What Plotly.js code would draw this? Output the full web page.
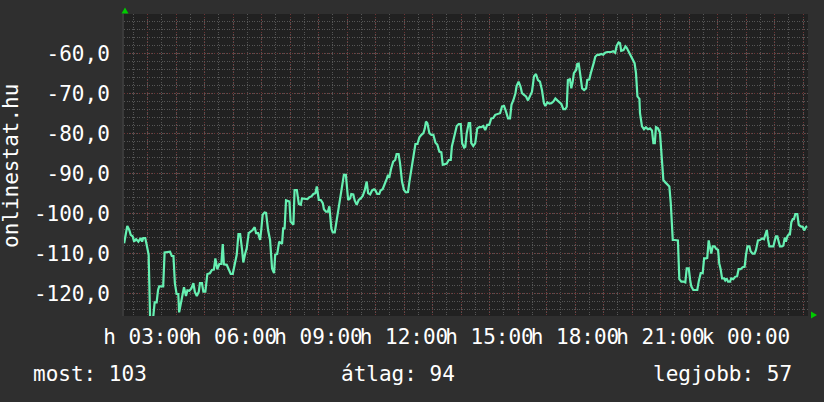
<!DOCTYPE html>
<html>
<head>
<meta charset="utf-8">
<script src="https://cdn.plot.ly/plotly-3.0.1.min.js"></script>
<style>
  html, body { margin: 0; padding: 0; background: #2f2f2f; }
  #chart { width: 824px; height: 402px; }
</style>
</head>
<body>
<div id="chart"></div>
<script>
// ---- data (hours since Monday 00:00, negated rank) ----
var hours = [
 2.18,2.29,2.36,2.41,2.48,2.53,2.60,2.68,2.76,2.81,2.85,2.92,2.97,3.04,3.09,3.20,3.25,3.32,3.37,3.41,
 3.55,3.60,3.79,3.85,3.91,3.96,4.02,4.08,4.11,4.18,4.24,4.28,4.35,4.40,4.47,4.54,4.61,4.66,4.73,4.80,
 4.84,4.91,4.96,5.03,5.10,5.19,5.26,5.33,5.38,5.45,5.52,5.59,5.64,5.68,5.78,5.85,5.92,5.99,6.07,6.13,
 6.19,6.25,6.32,6.36,6.43,6.48,6.55,6.62,6.69,6.76,6.81,6.88,6.95,6.99,7.04,7.11,7.16,7.23,7.30,7.37,
 7.44,7.48,7.55,7.62,7.72,7.76,7.81,7.86,7.98,8.02,8.12,8.16,8.24,8.31,8.38,8.42,8.53,8.61,8.68,8.75,
 8.82,8.89,8.94,9.01,9.08,9.15,9.19,9.26,9.33,9.38,9.45,9.50,9.57,9.64,9.71,9.75,9.82,9.89,9.96,10.04,
 10.11,10.15,10.22,10.27,10.34,10.41,10.48,10.55,10.62,10.69,10.74,10.81,10.88,10.95,10.99,11.06,11.13,11.18,11.25,11.32,
 11.39,11.44,11.48,11.55,11.62,11.69,11.74,11.81,11.86,11.93,12.00,12.07,12.14,12.19,12.26,12.33,12.40,12.47,12.54,12.61,
 12.68,12.73,12.77,12.82,12.89,12.96,13.03,13.10,13.17,13.24,13.31,13.36,13.43,13.50,13.57,13.64,13.68,13.73,13.80,13.85,
 13.92,13.99,14.04,14.11,14.15,14.20,14.27,14.32,14.36,14.43,14.50,14.57,14.64,14.71,14.78,14.85,14.92,14.99,15.06,15.13,
 15.20,15.27,15.37,15.44,15.51,15.58,15.65,15.72,15.77,15.84,15.91,15.95,16.02,16.09,16.14,16.21,16.28,16.35,16.42,16.49,
 16.56,16.63,16.70,16.77,16.84,16.91,16.96,17.03,17.10,17.17,17.24,17.31,17.38,17.45,17.52,17.59,17.66,17.71,17.75,17.82,
 17.87,17.92,17.96,18.04,18.08,18.13,18.18,18.25,18.32,18.39,18.43,18.50,18.57,18.62,18.67,18.71,18.78,18.85,18.92,18.99,
 19.06,19.13,19.20,19.27,19.34,19.41,19.46,19.53,19.58,19.62,19.70,19.77,19.81,19.88,19.95,20.02,20.09,20.14,20.19,20.26,
 20.28,20.35,20.42,20.49,20.56,20.63,20.70,20.75,20.80,20.84,20.91,20.98,21.03,21.10,21.17,21.24,21.31,21.36,21.40,21.43,
 21.50,21.61,21.66,21.73,21.80,21.87,21.92,21.99,22.04,22.08,22.15,22.22,22.29,22.34,22.41,22.48,22.53,22.60,22.64,22.69,
 22.74,22.78,22.83,22.90,22.95,23.02,23.06,23.11,23.16,23.23,23.27,23.32,23.37,23.44,23.48,23.55,23.62,23.69,23.74,23.81,
 23.88,23.95,24.00,24.05,24.12,24.16,24.23,24.30,24.35,24.42,24.49,24.56,24.63,24.68,24.73,24.77,24.82,24.89,24.96,25.01,
 25.05,25.10,25.15,25.19,25.26,25.31,25.36,25.40,25.45,25.50,25.54,25.59,25.64,25.68,25.73,25.80,25.85,25.92,25.99,26.04,
 26.11,26.15
];
var values = [
 -107.5,-103.2,-104.2,-105.4,-105.8,-107.1,-106.5,-107.1,-106.2,-107.1,-106.2,-106.2,-107.9,-110.4,-126,-126,-122.3,-122.3,-119.2,-118.3,
 -118.3,-109.8,-109.6,-110.7,-110.7,-117.5,-120.2,-120.2,-124.8,-122.1,-120.8,-118.5,-120.7,-119.3,-119.4,-118.8,-117.5,-119.6,-120.7,-119.6,
 -117.5,-117.5,-119.6,-119.6,-115.2,-115,-114.2,-114.1,-111.3,-114,-112.7,-112.7,-107.7,-112.8,-112.9,-114.2,-115.2,-115.2,-112.5,-110.4,
 -105.2,-105.2,-109.2,-112.3,-110,-108.8,-105,-104.6,-104.2,-103.5,-105,-105,-106.7,-104.2,-100.4,-99.8,-99.9,-104.2,-106.7,-113.8,
 -115,-110.4,-110.2,-107.1,-107.7,-103.8,-103.8,-96.8,-97.1,-102.1,-102.9,-94.2,-94.2,-97.7,-97.9,-96.3,-96.5,-96.5,-96,-95.8,
 -95.2,-95,-93.3,-96.7,-96.7,-97.5,-99,-99.6,-99.6,-98.3,-103.8,-104.8,-104.8,-101.7,-99.2,-96.3,-93.8,-90.4,-90.4,-96.7,
 -96.3,-95.2,-95.3,-96.8,-97.9,-96.7,-96.3,-95.7,-94.3,-92.1,-95,-95.3,-94.3,-94,-94.2,-95.2,-95.2,-94.3,-94,-92.9,
 -91.5,-90.4,-91.2,-88.8,-87.1,-86.7,-85.2,-85.2,-87.5,-92.1,-94.2,-94.8,-94.7,-92.1,-88.8,-86.3,-82.7,-82.7,-81,-80.4,
 -80,-78.8,-77.1,-77.5,-80,-80.4,-80.4,-82.3,-82.9,-84.6,-84.8,-87.9,-87.8,-87.6,-86.7,-86.7,-83.3,-81.7,-80,-78.2,
 -77.7,-77.7,-82.5,-83.6,-83.4,-80,-77.5,-77.5,-82.5,-83.2,-82.5,-78.8,-78.5,-78.5,-78.2,-79.2,-77.9,-77.9,-76.3,-76.2,
 -75.4,-75.2,-75,-73.3,-73.2,-74.6,-76.3,-76.3,-72.9,-71.7,-70,-68.2,-67.1,-68.4,-70,-70.4,-70.8,-71.8,-70.8,-69.6,
 -65.8,-65.2,-66.7,-67.1,-69.2,-72.5,-73.2,-72.3,-72.6,-72.5,-72.1,-71.3,-71.8,-72.3,-72.7,-74,-74,-73.4,-66.7,-66.5,
 -68.8,-67.1,-65,-64.2,-62.7,-62.6,-65,-68.8,-69.2,-68.8,-66.7,-66.6,-64.6,-62.9,-62.1,-60.9,-60.4,-60.4,-60.2,-60.4,
 -59.9,-59.7,-59.7,-59.7,-59.5,-59.9,-58.2,-57.3,-57.5,-59.4,-59.2,-58.3,-58.6,-59.6,-60.2,-61.3,-62.5,-65,-70.8,-71.4,
 -75,-78.3,-79,-78.5,-79,-78.8,-79.3,-82.5,-82.5,-78.5,-78.8,-79.8,-84.6,-91.7,-92.3,-92.9,-93.3,-97.5,-102.5,-106.7,
 -106.7,-106.8,-116.5,-117.1,-117.1,-117.3,-113.8,-113.8,-116.7,-118.3,-119.2,-119.2,-119.2,-117.1,-115,-115,-111.3,-111.3,-111.2,-106.8,
 -109.2,-110.1,-108.3,-108.3,-108.9,-109.2,-112.5,-114,-116.3,-116.3,-116.8,-116.3,-117.1,-117.1,-116.3,-116.5,-115.9,-115.7,-114,-114,
 -113.5,-113.4,-110.4,-108.3,-108.3,-109.5,-110.1,-110.1,-109.2,-106.8,-106.7,-106.3,-106.5,-105.4,-104.2,-106.5,-108.3,-108.3,-108.3,-106.8,
 -105.8,-105.8,-107,-108.3,-108.3,-108.1,-106.1,-107.1,-105.8,-105.3,-105.3,-102.3,-101.5,-101.5,-100.2,-100.2,-102.9,-103.3,-103.4,-104.3,
 -103.4,-103.3
];

var yTickVals = [-120, -110, -100, -90, -80, -70, -60];
var yTickText = ['-120,0', '-110,0', '-100,0', '-90,0', '-80,0', '-70,0', '-60,0'];
var xLabelHours = [3, 6, 9, 12, 15, 18, 21, 24];
var xLabelText = ['h 03:00', 'h 06:00', 'h 09:00', 'h 12:00', 'h 15:00', 'h 18:00', 'h 21:00', 'k 00:00'];
var yAxisTitle = 'onlinestat.hu';
var legendItems = ['most: 103', 'átlag: 94', 'legjobb: 57'];

// ---- layout constants ----
var W = 824, H = 402;
var L = 124, R = 16, T = 14, B = 86;
var PW = W - L - R, PH = H - T - B;
var FONT = 'DejaVu Sans Mono, monospace';
var FS = 21;
var WHITE = '#ffffff';
var RED_GRID = '#6e3434';
var GRAY_GRID = '#565656';
var RED_DOTS = '1px,2px';
var GRAY_DOTS = '1px,1.5px';

function px(x) { return (x - L) / PW; }
function py(y) { return (H - B - y) / PH; }

// hourly grid ticks, only every third one labelled
var gridHours = [], gridText = [];
for (var h = 3; h <= 26; h++) {
  gridHours.push(h);
  var idx = xLabelHours.indexOf(h);
  gridText.push(idx >= 0 ? xLabelText[idx] : '');
}

var trace = {
  x: hours, y: values, type: 'scatter', mode: 'lines',
  line: { color: '#66f0b2', width: 2.2 },
  hoverinfo: 'skip'
};

var layout = {
  width: W, height: H,
  margin: { l: L, r: R, t: T, b: B, pad: 0 },
  paper_bgcolor: '#2f2f2f',
  plot_bgcolor: '#212121',
  showlegend: false,
  font: { family: FONT, size: FS, color: WHITE },
  xaxis: {
    range: [2.175, 26.175],
    tickmode: 'array', tickvals: gridHours, ticktext: gridText, tickangle: 0,
    showgrid: true, gridcolor: RED_GRID, griddash: RED_DOTS, gridwidth: 1,
    ticks: 'outside', ticklen: 2, tickcolor: 'rgba(0,0,0,0)',
    tickfont: { family: FONT, size: FS, color: WHITE },
    minor: { tickmode: 'linear', tick0: 2.5, dtick: 0.5, showgrid: true, gridcolor: GRAY_GRID, griddash: GRAY_DOTS, gridwidth: 1, ticks: '' },
    zeroline: false, showline: false, fixedrange: true
  },
  yaxis: {
    range: [-125.7, -50.2],
    tickmode: 'array', tickvals: yTickVals, ticktext: yTickText,
    showgrid: true, gridcolor: RED_GRID, griddash: RED_DOTS, gridwidth: 1,
    ticks: 'outside', ticklen: 8, tickcolor: 'rgba(0,0,0,0)',
    tickfont: { family: FONT, size: FS, color: WHITE },
    minor: { tickmode: 'linear', tick0: 0, dtick: 2, showgrid: true, gridcolor: GRAY_GRID, griddash: GRAY_DOTS, gridwidth: 1, ticks: '' },
    zeroline: false, showline: true, linecolor: '#3a3a3a', linewidth: 2, fixedrange: true
  },
  annotations: [
    { text: yAxisTitle, textangle: -90, xref: 'paper', yref: 'paper', x: px(11), y: py(166),
      xanchor: 'center', yanchor: 'middle', showarrow: false, font: { family: FONT, size: FS, color: WHITE } },
    { text: legendItems[0], xref: 'paper', yref: 'paper', x: px(31), y: py(374),
      xanchor: 'left', yanchor: 'middle', showarrow: false, font: { family: FONT, size: FS, color: WHITE } },
    { text: legendItems[1], xref: 'paper', yref: 'paper', x: px(339), y: py(374),
      xanchor: 'left', yanchor: 'middle', showarrow: false, font: { family: FONT, size: FS, color: WHITE } },
    { text: legendItems[2], xref: 'paper', yref: 'paper', x: px(794), y: py(374),
      xanchor: 'right', yanchor: 'middle', showarrow: false, font: { family: FONT, size: FS, color: WHITE } }
  ],
  shapes: [
    { type: 'path', xref: 'paper', yref: 'paper', fillcolor: '#00cc00', line: { width: 0 },
      path: 'M' + px(121.5) + ',' + py(13.5) + ' L' + px(128.5) + ',' + py(13.5) + ' L' + px(125) + ',' + py(7.5) + ' Z' },
    { type: 'path', xref: 'paper', yref: 'paper', fillcolor: '#00cc00', line: { width: 0 },
      path: 'M' + px(811) + ',' + py(311.5) + ' L' + px(811) + ',' + py(318.5) + ' L' + px(817) + ',' + py(315) + ' Z' }
  ]
};

Plotly.newPlot('chart', [trace], layout, { staticPlot: true, displayModeBar: false });
</script>
</body>
</html>
